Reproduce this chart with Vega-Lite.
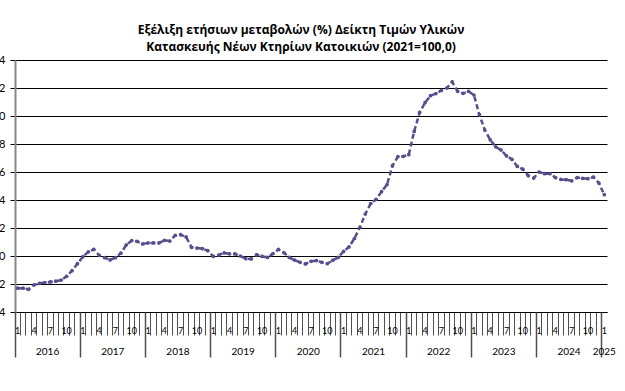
{
  "$schema": "https://vega.github.io/schema/vega-lite/v6.json",
  "width": 592,
  "height": 252,
  "autosize": {"type": "none"},
  "padding": {"left": 15, "top": 60, "right": 18, "bottom": 79},
  "background": "white",
  "title": {
    "text": ["Εξέλιξη ετήσιων μεταβολών (%) Δείκτη Τιμών Υλικών", "Κατασκευής Νέων Κτηρίων Κατοικιών (2021=100,0)"],
    "font": "Open Sans",
    "fontSize": 12,
    "fontWeight": "bold",
    "color": "#000000",
    "anchor": "middle",
    "dx": -10,
    "offset": 0,
    "lineHeight": 17
  },
  "config": {
    "view": {"stroke": null},
    "axis": {"labelFont": "Lato", "labelColor": "#000000", "titleFont": "Lato"}
  },
  "data": {
    "values": [
      {"m": "2016-01", "v": -2.3}, {"m": "2016-02", "v": -2.3}, {"m": "2016-03", "v": -2.38}, {"m": "2016-04", "v": -2.07},
      {"m": "2016-05", "v": -1.95}, {"m": "2016-06", "v": -1.9}, {"m": "2016-07", "v": -1.85}, {"m": "2016-08", "v": -1.8},
      {"m": "2016-09", "v": -1.72}, {"m": "2016-10", "v": -1.45}, {"m": "2016-11", "v": -1.05}, {"m": "2016-12", "v": -0.55},
      {"m": "2017-01", "v": -0.05}, {"m": "2017-02", "v": 0.3}, {"m": "2017-03", "v": 0.48}, {"m": "2017-04", "v": 0.05},
      {"m": "2017-05", "v": -0.12}, {"m": "2017-06", "v": -0.28}, {"m": "2017-07", "v": -0.12}, {"m": "2017-08", "v": 0.2},
      {"m": "2017-09", "v": 0.8}, {"m": "2017-10", "v": 1.1}, {"m": "2017-11", "v": 1.04}, {"m": "2017-12", "v": 0.86},
      {"m": "2018-01", "v": 0.93}, {"m": "2018-02", "v": 0.93}, {"m": "2018-03", "v": 0.93}, {"m": "2018-04", "v": 1.12},
      {"m": "2018-05", "v": 1.07}, {"m": "2018-06", "v": 1.47}, {"m": "2018-07", "v": 1.52}, {"m": "2018-08", "v": 1.36},
      {"m": "2018-09", "v": 0.62}, {"m": "2018-10", "v": 0.57}, {"m": "2018-11", "v": 0.52}, {"m": "2018-12", "v": 0.38},
      {"m": "2019-01", "v": -0.03}, {"m": "2019-02", "v": 0.07}, {"m": "2019-03", "v": 0.22}, {"m": "2019-04", "v": 0.15},
      {"m": "2019-05", "v": 0.15}, {"m": "2019-06", "v": 0.0}, {"m": "2019-07", "v": -0.19}, {"m": "2019-08", "v": -0.21},
      {"m": "2019-09", "v": 0.09}, {"m": "2019-10", "v": -0.03}, {"m": "2019-11", "v": -0.1}, {"m": "2019-12", "v": 0.17},
      {"m": "2020-01", "v": 0.47}, {"m": "2020-02", "v": 0.24}, {"m": "2020-03", "v": -0.1}, {"m": "2020-04", "v": -0.3},
      {"m": "2020-05", "v": -0.45}, {"m": "2020-06", "v": -0.57}, {"m": "2020-07", "v": -0.38}, {"m": "2020-08", "v": -0.33},
      {"m": "2020-09", "v": -0.45}, {"m": "2020-10", "v": -0.55}, {"m": "2020-11", "v": -0.31}, {"m": "2020-12", "v": -0.1},
      {"m": "2021-01", "v": 0.33}, {"m": "2021-02", "v": 0.65}, {"m": "2021-03", "v": 1.25}, {"m": "2021-04", "v": 2.05},
      {"m": "2021-05", "v": 3.0}, {"m": "2021-06", "v": 3.75}, {"m": "2021-07", "v": 4.05}, {"m": "2021-08", "v": 4.6},
      {"m": "2021-09", "v": 5.1}, {"m": "2021-10", "v": 6.45}, {"m": "2021-11", "v": 7.1}, {"m": "2021-12", "v": 7.12},
      {"m": "2022-01", "v": 7.24}, {"m": "2022-02", "v": 8.9}, {"m": "2022-03", "v": 10.25}, {"m": "2022-04", "v": 10.95},
      {"m": "2022-05", "v": 11.45}, {"m": "2022-06", "v": 11.6}, {"m": "2022-07", "v": 11.83}, {"m": "2022-08", "v": 12.0},
      {"m": "2022-09", "v": 12.43}, {"m": "2022-10", "v": 11.76}, {"m": "2022-11", "v": 11.62}, {"m": "2022-12", "v": 11.76},
      {"m": "2023-01", "v": 11.5}, {"m": "2023-02", "v": 10.1}, {"m": "2023-03", "v": 9.0}, {"m": "2023-04", "v": 8.3},
      {"m": "2023-05", "v": 7.8}, {"m": "2023-06", "v": 7.57}, {"m": "2023-07", "v": 7.15}, {"m": "2023-08", "v": 6.9},
      {"m": "2023-09", "v": 6.4}, {"m": "2023-10", "v": 6.2}, {"m": "2023-11", "v": 5.74}, {"m": "2023-12", "v": 5.57},
      {"m": "2024-01", "v": 6.0}, {"m": "2024-02", "v": 5.88}, {"m": "2024-03", "v": 5.88}, {"m": "2024-04", "v": 5.6},
      {"m": "2024-05", "v": 5.47}, {"m": "2024-06", "v": 5.45}, {"m": "2024-07", "v": 5.37}, {"m": "2024-08", "v": 5.6},
      {"m": "2024-09", "v": 5.55}, {"m": "2024-10", "v": 5.52}, {"m": "2024-11", "v": 5.64}, {"m": "2024-12", "v": 5.21},
      {"m": "2025-01", "v": 4.38}
    ]
  },
  "encoding": {
    "y": {
      "field": "v",
      "type": "quantitative",
      "scale": {"domain": [-4, 14], "nice": false},
      "axis": {
        "title": null,
        "values": [-4, -2, 0, 2, 4, 6, 8, 10, 12, 14],
        "grid": true,
        "gridColor": "#000000",
        "gridWidth": 1,
        "gridOpacity": 1,
        "domainColor": "#888888",
        "domainWidth": 2,
        "tickColor": "#000000",
        "tickSize": 5,
        "labelPadding": 5,
        "labelFontSize": 11
      }
    }
  },
  "layer": [
    {
      "mark": {"type": "line", "color": "#5a4d8c", "strokeWidth": 2.5, "strokeDash": [5, 3]},
      "encoding": {
        "x": {
          "field": "m",
          "type": "ordinal",
          "sort": "ascending",
          "scale": {"type": "band", "paddingInner": 0, "paddingOuter": 0},
          "axis": {
            "title": null,
            "orient": "bottom",
            "bandPosition": 0,
            "tickSize": 23,
            "tickColor": "#505050",
            "tickWidth": 1,
            "domainColor": "#000000",
            "domainWidth": 1,
            "labelExpr": "indexof(['01','04','07','10'], slice(datum.value, 5)) >= 0 ? '' + toNumber(slice(datum.value, 5)) : ''",
            "labelAngle": 0,
            "labelFontSize": 9,
            "labelPadding": -9,
            "labelOverlap": false,
            "grid": false,
            "offset": 0
          }
        }
      }
    },
    {
      "mark": {"type": "point", "filled": true, "shape": "circle", "size": 14, "color": "#5a4d8c", "opacity": 1},
      "encoding": {
        "x": {
          "field": "m",
          "type": "ordinal",
          "sort": "ascending",
          "axis": {
            "title": null,
            "orient": "bottom",
            "values": ["2016-01", "2017-01", "2018-01", "2019-01", "2020-01", "2021-01", "2022-01", "2023-01", "2024-01", "2025-01"],
            "bandPosition": 0,
            "tickSize": 45,
            "tickColor": "#505050",
            "tickWidth": 1.5,
            "domain": false,
            "grid": false,
            "labelExpr": "slice(datum.value, 0, 4)",
            "labelFontSize": 10,
            "labelPadding": -11,
            "labelAngle": 0,
            "labelOverlap": false,
            "labelOffset": {"condition": {"test": "datum.value == '2025-01'", "value": 0}, "value": 29.9},
            "offset": 0
          }
        }
      }
    }
  ],
  "resolve": {"axis": {"x": "independent"}}
}
